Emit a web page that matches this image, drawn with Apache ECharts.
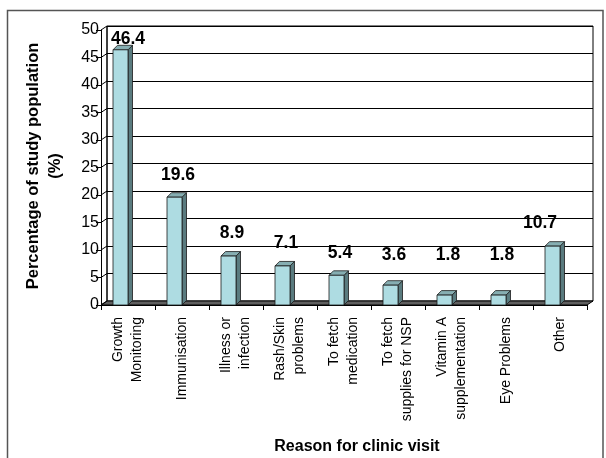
<!DOCTYPE html>
<html>
<head>
<meta charset="utf-8">
<script src="https://cdn.jsdelivr.net/npm/echarts@6/dist/echarts.min.js"></script>
<style>
html,body{margin:0;padding:0;background:#fff;}
#c{width:606px;height:458px;}
</style>
</head>
<body>
<div id="c"></div>
<script>
const categories = ['Growth\nMonitoring','Immunisation','Illness or\ninfection','Rash/Skin\nproblems','To fetch\nmedication','To fetch\nsupplies for NSP','Vitamin A\nsupplementation','Eye Problems','Other'];
const values = [46.4, 19.6, 8.9, 7.1, 5.4, 3.6, 1.8, 1.8, 10.7];
const yTicks = {min: 0, max: 50, interval: 5};
const yTitle = 'Percentage of study population\n(%)';
const xTitle = 'Reason for clinic visit';

const FONT = '"Liberation Sans", Arial, sans-serif';
const front = {left: 101, right: 587, top: 30, bottom: 305};
const DX = 6, DY = -4;
const BD = 4.5; // bar depth
const labelNudge = {0: 4, 8: -16};

const chart = echarts.init(document.getElementById('c'), null, {renderer: 'canvas'});

const option = {
  animation: false,
  backgroundColor: '#fff',
  grid: [
    {left: front.left, right: 606 - front.right, top: front.top, bottom: 458 - front.bottom, show: false},
    {left: front.left + DX, right: 606 - front.right - DX, top: front.top + DY, bottom: 458 - front.bottom - DY,
     show: true, borderColor: '#000', borderWidth: 1, backgroundColor: 'transparent'}
  ],
  xAxis: [
    {type: 'category', gridIndex: 0, data: categories, boundaryGap: true,
     axisLine: {show: true, lineStyle: {color: '#000', width: 1}},
     axisTick: {show: true, inside: false, length: 5, alignWithLabel: false, lineStyle: {color: '#000'}},
     axisLabel: {rotate: 90, interval: 0, fontSize: 14, fontFamily: FONT, color: '#000', lineHeight: 19, margin: 12}
    },
    {type: 'category', gridIndex: 1, data: categories, show: false}
  ],
  yAxis: [
    {type: 'value', gridIndex: 0, min: yTicks.min, max: yTicks.max, interval: yTicks.interval,
     axisLine: {show: true, lineStyle: {color: '#000', width: 1}},
     axisTick: {show: true, inside: false, length: 5, lineStyle: {color: '#000'}},
     axisLabel: {fontSize: 16, fontFamily: FONT, color: '#000', margin: 2},
     splitLine: {show: false}
    },
    {type: 'value', gridIndex: 1, min: yTicks.min, max: yTicks.max, interval: yTicks.interval,
     axisLine: {show: false}, axisTick: {show: false}, axisLabel: {show: false},
     splitLine: {show: true, lineStyle: {color: '#000', width: 1}}
    }
  ],
  series: [{
    type: 'custom',
    xAxisIndex: 0, yAxisIndex: 0,
    clip: false,
    data: values.map((v, i) => [i, v]),
    renderItem: function (params, api) {
      const i = api.value(0), v = api.value(1);
      const p1 = api.coord([i, v]);
      const p0 = api.coord([i, 0]);
      const cx = p1[0], y1 = p1[1], y0 = p0[1];
      const w = 15;
      const stroke = {stroke: '#1a1a1a', lineWidth: 0.8};
      const yMin = api.coord([i, 9])[1];
      const yTop = api.coord([i, yTicks.max])[1] + 9;
      const ly = Math.max(Math.min(y1 - 22.5, yMin), yTop);
      const lx = cx - 4 + (labelNudge[params.dataIndex] || 0);
      return {
        type: 'group',
        children: [
          {type: 'polygon', shape: {points: [[cx, y1], [cx + BD, y1 - BD], [cx + BD, y0 - BD], [cx, y0]]},
           style: Object.assign({fill: '#5A7B7F'}, stroke)},
          {type: 'polygon', shape: {points: [[cx - w, y1], [cx - w + BD, y1 - BD], [cx + BD, y1 - BD], [cx, y1]]},
           style: Object.assign({fill: '#86AEB2'}, stroke)},
          {type: 'rect', shape: {x: cx - w, y: y1, width: w, height: y0 - y1},
           style: Object.assign({fill: '#AEDCE2'}, stroke)},
          {type: 'text', x: lx, y: ly,
           style: {text: String(v), font: 'bold 17.5px ' + FONT, fill: '#000', align: 'center', verticalAlign: 'middle'}}
        ]
      };
    }
  }]
};
chart.setOption(option);

// decorations: frame, floor, side wall, titles
const yTickVals = [];
for (let t = yTicks.min; t <= yTicks.max; t += yTicks.interval) yTickVals.push(t);
const sideLines = yTickVals.map(t => {
  const p = chart.convertToPixel({xAxisIndex: 0, yAxisIndex: 0}, [0, t]);
  return {type: 'line', shape: {x1: front.left, y1: p[1], x2: front.left + DX, y2: p[1] + DY},
          style: {stroke: '#000', lineWidth: 1}, z: 1};
});
chart.setOption({
  graphic: [
    {type: 'rect', shape: {x: 7.5, y: 10.5, width: 595.5, height: 470}, style: {fill: 'none', stroke: '#555', lineWidth: 1.5}, z: 0, silent: true},
    {type: 'polygon', shape: {points: [[front.left, front.bottom], [front.right, front.bottom], [front.right + DX, front.bottom + DY], [front.left + DX, front.bottom + DY]]},
     style: {fill: '#5f5f5f', stroke: '#000', lineWidth: 1}, z: 1},
    {type: 'line', shape: {x1: front.left + DX, y1: front.top + DY, x2: front.left + DX, y2: front.bottom + DY}, style: {stroke: '#000', lineWidth: 1}, z: 1},
    ...sideLines,
    {type: 'text', x: 44, y: 166, rotation: Math.PI / 2,
     style: {text: yTitle, font: 'bold 16.5px ' + FONT, fill: '#000', align: 'center', verticalAlign: 'middle', lineHeight: 22}},
    {type: 'text', x: 357, y: 447,
     style: {text: xTitle, font: 'bold 16px ' + FONT, fill: '#000', align: 'center', verticalAlign: 'middle'}}
  ]
});
</script>
</body>
</html>
